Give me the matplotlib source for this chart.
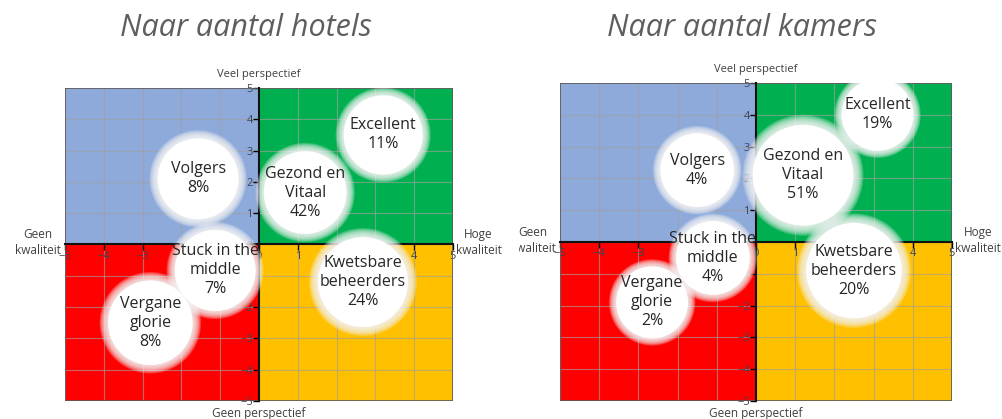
import numpy as np
import matplotlib
matplotlib.use("Agg")
import matplotlib.pyplot as plt
from matplotlib.patches import Rectangle
from matplotlib.transforms import Bbox, TransformedBbox

plt.rcParams['font.family'] = ['Open Sans', 'DejaVu Sans']

segments = ["Volgers", "Excellent", "Gezond en\nVitaal", "Stuck in the\nmiddle",
            "Vergane\nglorie", "Kwetsbare\nbeheerders"]

# kwaliteit (x) en perspectief (y) per segment
hotels_x = [-1.57, 3.2, 1.19, -1.13, -2.8, 2.68]
hotels_y = [2.1, 3.5, 1.66, -0.83, -2.5, -1.2]
hotels_pct = [8, 11, 42, 7, 8, 24]

kamers_x = [-1.5, 3.1, 1.2, -1.1, -2.65, 2.5]
kamers_y = [2.26, 4.0, 2.1, -0.5, -1.9, -0.9]
kamers_pct = [4, 19, 51, 4, 2, 20]

# bubble radius (pixels)
hotels_r = [45, 44, 46, 45, 47, 50]
kamers_r = [41, 40, 56, 41, 40, 53]

titles = ["Naar aantal hotels", "Naar aantal kamers"]
ticks = list(range(-5, 6))

quadrants = [((-5, 0), '#8eaadb'), ((0, 0), '#00b050'),
             ((-5, -5), '#ff0000'), ((0, -5), '#ffc000')]

W, H = 1003, 419
fig = plt.figure(figsize=(W / 100, H / 100), dpi=100)


def clip_to(t, x0, x1):
    bb = TransformedBbox(Bbox([[x0 / W, 0], [x1 / W, 1]]), fig.transFigure)
    t.set_clip_box(bb)
    t.set_clip_on(True)


def draw_chart(rect, xs, ys, pct, rs, title, clip):
    ax = fig.add_axes(rect)
    ax.set_xlim(-5, 5)
    ax.set_ylim(-5, 5)
    for (x0, y0), c in quadrants:
        ax.add_patch(Rectangle((x0, y0), 5, 5, color=c, lw=0, zorder=0))
    ax.set_xticks(ticks)
    ax.set_yticks(ticks)
    ax.grid(True, color='#a0a0a0', lw=0.8, alpha=0.65)
    ax.set_axisbelow(True)
    ax.spines['left'].set_position(('data', 0))
    ax.spines['bottom'].set_position(('data', 0))
    for s in ['left', 'bottom']:
        ax.spines[s].set_color('#111111')
        ax.spines[s].set_linewidth(1.5)
    ax.spines['top'].set_visible(False)
    ax.spines['right'].set_visible(False)
    ax.add_patch(Rectangle((-5, -5), 10, 10, fill=False, ec='#5a5a5a', lw=1.2, zorder=2))
    ax.tick_params(labelsize=8, labelcolor='#3c4452', length=4, width=1, pad=0.5)

    # soft white bubbles
    for k in np.linspace(1.08, 0.9, 10):
        ax.scatter(xs, ys, s=[(2 * r * k * 0.72) ** 2 for r in rs],
                   color='#f3f3f3', alpha=0.22, lw=0, zorder=3)
    ax.scatter(xs, ys, s=[(2 * r * 0.9 * 0.72) ** 2 for r in rs],
               color='white', lw=0, zorder=3)
    for x, y, name, p in zip(xs, ys, segments, pct):
        ax.text(x, y, f"{name}\n{p}%", ha='center', va='center', fontsize=11.5,
                color='#262626', linespacing=1.25, zorder=4)

    kw = dict(transform=ax.transAxes, ha='center', va='center', color='#404040')
    ax.text(0.5, 1.043, "Veel perspectief", fontsize=8, **kw)
    ax.text(0.5, -0.04, "Geen perspectief", fontsize=8.5, **kw)
    t1 = ax.text(-0.07, 0.505, "Geen\nkwaliteit", fontsize=8.5, linespacing=1.3, **kw)
    t2 = ax.text(1.066, 0.505, "Hoge\nkwaliteit", fontsize=8.5, linespacing=1.3, **kw)
    for t in (t1, t2):
        clip_to(t, *clip)
    fig.text(rect[0] + rect[2] * 0.465, 1 - 28 / H, title, ha='center', va='center',
             fontsize=22, style='italic', color='#5e5e5e')
    return ax


draw_chart([65 / W, 18 / H, 388 / W, 313 / H], hotels_x, hotels_y, hotels_pct, hotels_r,
           titles[0], (0, 508))
draw_chart([560 / W, 18 / H, 392 / W, 318 / H], kamers_x, kamers_y, kamers_pct, kamers_r,
           titles[1], (519, W))

fig.savefig("out.png", dpi=100)
